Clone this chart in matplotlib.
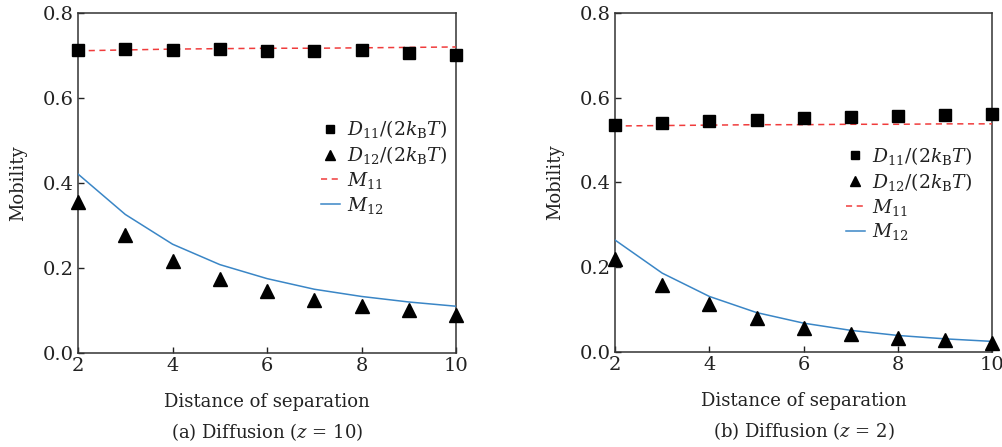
import matplotlib
matplotlib.use("Agg")
import matplotlib.pyplot as plt

plt.rcParams["font.family"] = ["DejaVu Serif"]
plt.rcParams["mathtext.fontset"] = "dejavuserif"

separation = [2, 3, 4, 5, 6, 7, 8, 9, 10]

# Panel (a): z = 10
d11_a = [0.714, 0.716, 0.714, 0.716, 0.711, 0.711, 0.714, 0.706, 0.700]
d12_a = [0.356, 0.278, 0.216, 0.174, 0.145, 0.124, 0.110, 0.101, 0.089]
m11_a = [0.711, 0.713, 0.715, 0.716, 0.717, 0.717, 0.718, 0.719, 0.720]
m12_a = [0.421, 0.326, 0.256, 0.208, 0.175, 0.150, 0.133, 0.120, 0.110]

# Panel (b): z = 2
d11_b = [0.535, 0.541, 0.544, 0.548, 0.551, 0.553, 0.556, 0.558, 0.561]
d12_b = [0.220, 0.157, 0.113, 0.080, 0.057, 0.043, 0.034, 0.028, 0.022]
m11_b = [0.533, 0.534, 0.535, 0.536, 0.536, 0.537, 0.537, 0.538, 0.538]
m12_b = [0.264, 0.186, 0.131, 0.093, 0.068, 0.051, 0.039, 0.031, 0.025]

x_ticks = [2, 4, 6, 8, 10]
y_ticks = [0.0, 0.2, 0.4, 0.6, 0.8]

captions = ["(a) Diffusion ($z$ = 10)", "(b) Diffusion ($z$ = 2)"]

red = "#f03c3c"
blue = "#3a86c6"
ink = "#222222"

fig = plt.figure(figsize=(10.03, 4.47), dpi=100)
ax_a = fig.add_axes([0.0778, 0.2103, 0.3769, 0.7607])
ax_b = fig.add_axes([0.6132, 0.2125, 0.3763, 0.7590])

panels = [
    (ax_a, d11_a, d12_a, m11_a, m12_a, captions[0], (0.643, 0.690)),
    (ax_b, d11_b, d12_b, m11_b, m12_b, captions[1], (0.612, 0.610)),
]

for ax, d11, d12, m11, m12, cap, anchor in panels:
    ax.plot(separation, d11, linestyle="none", marker="s", ms=8,
            color="black", label=r"$D_{11}/(2k_{\mathrm{B}}T)$", clip_on=False, zorder=4)
    ax.plot(separation, d12, linestyle="none", marker="^", ms=9.5,
            color="black", label=r"$D_{12}/(2k_{\mathrm{B}}T)$", clip_on=False, zorder=4)
    ax.plot(separation, m11, linestyle=(0, (4, 3)), lw=1.1, color=red,
            label=r"$M_{11}$", zorder=3)
    ax.plot(separation, m12, linestyle="-", lw=1.1, color=blue,
            label=r"$M_{12}$", zorder=3)

    ax.set_xlim(2, 10)
    ax.set_ylim(0.0, 0.8)
    ax.set_xticks(x_ticks)
    ax.set_yticks(y_ticks)
    ax.set_yticklabels([f"{v:.1f}" for v in y_ticks])
    ax.tick_params(direction="in", length=4, width=1, labelsize=14,
                   colors=ink, pad=3, top=False, right=False)
    for sp in ax.spines.values():
        sp.set_color("#333333")
        sp.set_linewidth(1.1)

    ax.set_ylabel("Mobility", fontsize=13, color=ink, labelpad=11)
    ax.set_xlabel("Distance of separation", fontsize=13, color=ink, labelpad=13)
    ax.text(0.5, -0.232, cap, transform=ax.transAxes, ha="center", va="center",
            fontsize=13, color=ink)

    leg = ax.legend(loc="upper left", bbox_to_anchor=anchor, frameon=False,
                    fontsize=13.5, handlelength=1.0, handletextpad=0.4,
                    borderpad=0, borderaxespad=0, labelspacing=0.2,
                    markerscale=0.8)
    for t in leg.get_texts():
        t.set_color(ink)

fig.savefig("out.png", dpi=100)
